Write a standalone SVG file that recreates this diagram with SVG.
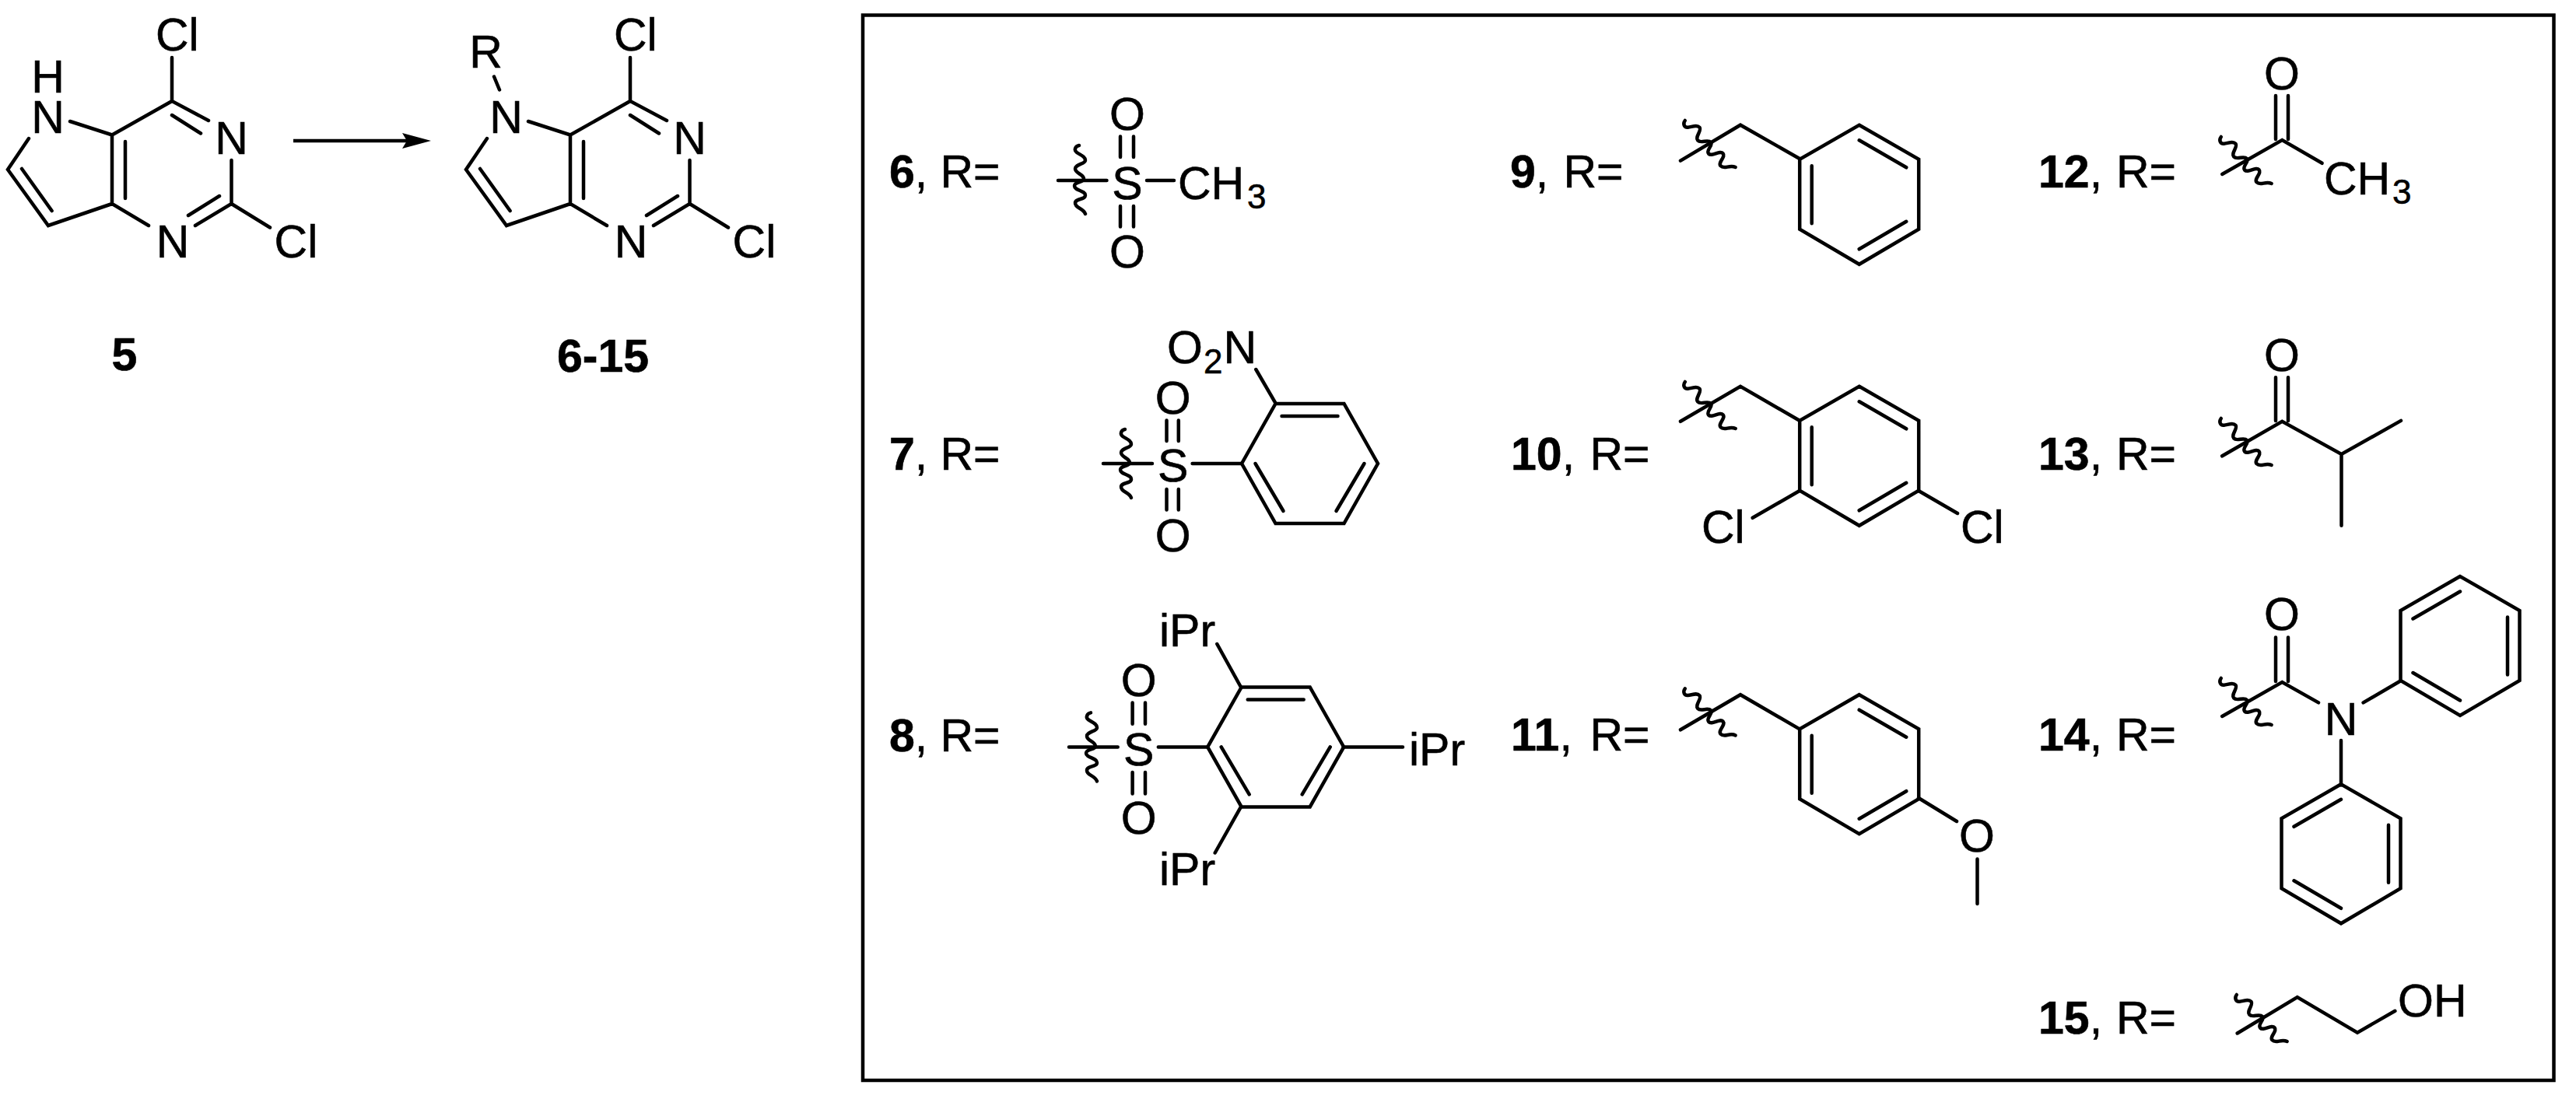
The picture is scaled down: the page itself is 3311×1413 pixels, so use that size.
<svg xmlns="http://www.w3.org/2000/svg" xmlns:xlink="http://www.w3.org/1999/xlink" width="3311" height="1413" viewBox="0 0 3311 1413">
<style>
text{font-family:"Liberation Sans",Arial,sans-serif;font-size:59px;fill:#000;stroke:#000;stroke-width:.6}
.m{text-anchor:middle}
.lb{font-weight:bold}
.sub{font-size:44px}
.b{fill:none;stroke:#000;stroke-width:4.500;stroke-linecap:round;stroke-linejoin:miter}
.w{fill:none;stroke:#000;stroke-width:4.500;stroke-linecap:round;stroke-linejoin:round}
</style>
<defs>
<marker id="arrow" markerUnits="userSpaceOnUse" viewBox="0 -10 37 20" markerWidth="37" markerHeight="20" refX="13" refY="0" orient="auto"><path d="M0,-10 L37,0 L0,10 L6,0 Z" fill="#000"/></marker>
<path id="wave" class="w" d="M-1,-44 C-6,-43 -8,-38 -4,-35 C0,-32 7,-30 7,-25 C7,-20 -6,-20 -6,-14 C-6,-8 5,-7 5,-1 C5,4 -7,2 -7,8 C-7,14 7,14 7,20 C7,26 -6,24 -6,30 C-6,37 4,36 7,44"/>
<path id="ringP" class="b" d="M0,-89.500 L76.500,-45.500 L76.500,44.500 L0,89.500 L-76.500,44.500 L-76.500,-45.500 Z M-61,-37 V37 M0,-70 L60.500,-35 M0,70 L60.500,34.500"/>
<path id="ringF" class="b" d="M-87.500,0 L-44,-77 L44,-77 L87.500,0 L44,77 L-44,77 Z M-36,-61 H36 M-70,0 L-34,61 M70,0 L34,61"/>
</defs>
<rect width="3311" height="1413" fill="#fff"/>
<g id="connectors">
<line id="reaction-arrow" class="b" x1="377" y1="181" x2="530" y2="181" marker-end="url(#arrow)" style="stroke-linecap:butt"/>
</g>
<g id="mol-5">
<path class="b" d="M221,74 V130 L268,155 M221,148 L258,171.500 M221,130 L144,173.500 L90,156 M144,173.500 V262 L191,290 M161,182 V255 M297.500,206 V262 L251,290 M282,252 L242,277 M297.500,262 L347,292.500 M37,178 L10,218 L62,290 L144,262 M28,217 L66.600,271"/>
<text x="200" y="64.500">Cl</text>
<text class="m" x="61.500" y="119">H<tspan x="61.500" y="170.500">N</tspan></text>
<text class="m" x="297.500" y="197.500">N</text>
<text class="m" x="222" y="330.500">N</text>
<text x="352.600" y="330.500">Cl</text>
<text class="m lb" x="160" y="476">5</text>
</g>
<g id="mol-6-15">
<path class="b" d="M810,74 V130 L857,155 M810,148 L847,171.500 M810,130 L733,173.500 L679,156 M733,173.500 V262 L780,290 M750,182 V255 M886.500,206 V262 L840,290 M871,252 L831,277 M886.500,262 L936,292.500 M626,178 L599,218 L651,290 L733,262 M617,217 L655.600,271 M635,98.500 L642,115.500"/>
<text class="m" x="624.500" y="87">R</text>
<text x="789" y="64.500">Cl</text>
<text class="m" x="650.500" y="170.500">N</text>
<text class="m" x="886.500" y="197.500">N</text>
<text class="m" x="811" y="330.500">N</text>
<text x="941.600" y="330.500">Cl</text>
<text class="m lb" x="775" y="478">6-15</text>
</g>
<rect id="r-group-box" x="1109" y="19.500" width="2173.500" height="1369.500" fill="none" stroke="#000" stroke-width="4.500"/>
<g id="r-6">
<text x="1143" y="241"><tspan class="lb">6</tspan>,<tspan x="1208.400">R=</tspan></text>
<path class="b" d="M1360,232 H1422.500 M1474,232 H1509 M1440,175.400 V202 M1457,175.400 V202 M1440,265 V291.500 M1457,265 V291.500"/>
<use href="#wave" transform="translate(1388,231)"/>
<text class="m" x="1449" y="166.500">O</text>
<text class="m" x="1449" y="255.500">S</text>
<text class="m" x="1449" y="344">O</text>
<text x="1514" y="255.500">CH<tspan class="sub" x="1603" y="268">3</tspan></text>
</g>
<g id="r-7">
<text x="1143" y="604"><tspan class="lb">7</tspan>,<tspan x="1208.400">R=</tspan></text>
<path class="b" d="M1418,596 H1481 M1532.600,596 H1596 M1499.500,540.400 V567 M1514.800,540.400 V567 M1499.500,629 V655.600 M1514.800,629 V655.600 M1614.300,475 L1639.800,518.800"/>
<use href="#wave" transform="translate(1447,596)"/>
<use href="#ringF" transform="translate(1683.500,596)"/>
<text class="m" x="1507.700" y="532">O</text>
<text class="m" x="1507.700" y="619">S</text>
<text class="m" x="1507.700" y="709">O</text>
<text x="1500" y="467">O<tspan class="sub" x="1547" y="480">2</tspan><tspan x="1572.500" y="467">N</tspan></text>
</g>
<g id="r-8">
<text x="1143" y="966"><tspan class="lb">8</tspan>,<tspan x="1208.400">R=</tspan></text>
<path class="b" d="M1374,960.400 H1436.700 M1488.800,960.400 H1551.500 M1455.600,903.400 V930.800 M1472,903.400 V930.800 M1455.600,993 V1020.500 M1472,993 V1020.500 M1564.300,828 L1595,883.500 M1595,1037.300 L1561.700,1096.500 M1726.500,960.400 H1803"/>
<use href="#wave" transform="translate(1403,960.400)"/>
<use href="#ringF" transform="translate(1639.700,960.400)"/>
<text class="m" x="1463.600" y="895">O</text>
<text class="m" x="1463.600" y="984">S</text>
<text class="m" x="1463.600" y="1072">O</text>
<text x="1490" y="830.500">iPr</text>
<text x="1490" y="1137.500">iPr</text>
<text x="1811" y="984">iPr</text>
</g>
<g id="r-9">
<text x="1941" y="241"><tspan class="lb">9</tspan>,<tspan x="2009.400">R=</tspan></text>
<path class="b" d="M2160,206.600 L2237,160.700 L2313,204"/>
<use href="#wave" transform="translate(2196,187) rotate(-42)"/>
<use href="#ringP" transform="translate(2389.700,250.300)"/>
</g>
<g id="r-10">
<text x="1942" y="604"><tspan class="lb">10</tspan>,<tspan x="2043.400">R=</tspan></text>
<path class="b" d="M2160,541.800 L2237,496.800 L2313,540.800 M2313,631 L2252.700,665.800 M2466,631 L2516,660"/>
<use href="#wave" transform="translate(2196,523) rotate(-42)"/>
<use href="#ringP" transform="translate(2389.700,586.300)"/>
<text x="2187" y="698">Cl</text>
<text x="2520" y="698">Cl</text>
</g>
<g id="r-11">
<text x="1942" y="965"><tspan class="lb">11</tspan>,<tspan x="2043.400">R=</tspan></text>
<path class="b" d="M2160,938.300 L2237,893.200 L2313,937.400 M2466,1026 L2515,1056 M2541.500,1104.400 V1162"/>
<use href="#wave" transform="translate(2196,917.400) rotate(-42)"/>
<use href="#ringP" transform="translate(2389.700,982.700)"/>
<text class="m" x="2541" y="1095">O</text>
</g>
<g id="r-12">
<text x="2620" y="241"><tspan class="lb">12</tspan>,<tspan x="2720">R=</tspan></text>
<path class="b" d="M2856.200,224 L2933.300,180 L2984.600,209.800 M2925,123 V179 M2941,123 V179"/>
<use href="#wave" transform="translate(2885,208) rotate(-42)"/>
<text class="m" x="2933" y="114.500">O</text>
<text x="2987" y="249.500">CH<tspan class="sub" x="3075" y="261.700">3</tspan></text>
</g>
<g id="r-13">
<text x="2620" y="604"><tspan class="lb">13</tspan>,<tspan x="2720">R=</tspan></text>
<path class="b" d="M2856.200,586.300 L2933.300,541.800 L3009.500,584 L3086,540.900 M3009.500,584 V675.800 M2925,485.300 V541 M2941,485.300 V541"/>
<use href="#wave" transform="translate(2885,570) rotate(-42)"/>
<text class="m" x="2933" y="477">O</text>
</g>
<g id="r-14">
<text x="2620" y="965"><tspan class="lb">14</tspan>,<tspan x="2720">R=</tspan></text>
<path class="b" d="M2856.200,921 L2933.300,877 L2980,903.400 M2925,819.400 V876 M2941,819.400 V876 M3037.600,903.400 L3085.300,875.500 M3009,952 V1009.400"/>
<use href="#wave" transform="translate(2885,904) rotate(-42)"/>
<use href="#ringP" transform="translate(3162,830.500) scale(-1,1)"/>
<use href="#ringP" transform="translate(3009,1097.800) scale(-1,1)"/>
<text class="m" x="2933" y="810">O</text>
<text class="m" x="3009" y="944.500">N</text>
</g>
<g id="r-15">
<text x="2620" y="1329"><tspan class="lb">15</tspan>,<tspan x="2720">R=</tspan></text>
<path class="b" d="M2875.700,1328.500 L2952.800,1282 L3030,1327.600 L3078.400,1299.800"/>
<use href="#wave" transform="translate(2905,1311) rotate(-42)"/>
<text x="3082" y="1307">OH</text>
</g>
</svg>
